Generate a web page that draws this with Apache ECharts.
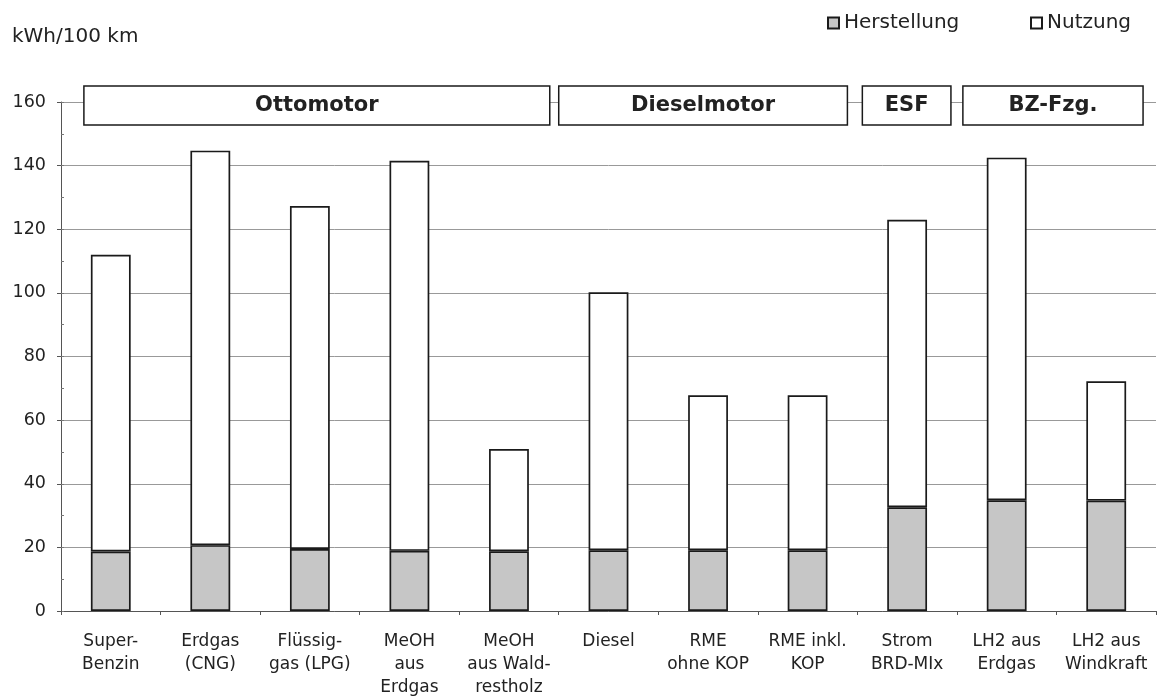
<!DOCTYPE html>
<html><head><meta charset="utf-8">
<script src="https://cdn.jsdelivr.net/npm/echarts@6/dist/echarts.min.js"></script>
<style>html,body{margin:0;padding:0;background:#fff}#c{width:1160px;height:699px}</style>
</head><body><div id="c"></div>
<script>
const categories = ['Super-\nBenzin','Erdgas\n(CNG)','Flüssig-\ngas (LPG)','MeOH\naus\nErdgas','MeOH\naus Wald-\nrestholz','Diesel','RME\nohne KOP','RME inkl.\nKOP','Strom\nBRD-MIx','LH2 aus\nErdgas','LH2 aus\nWindkraft'];
const herstellung = [18.7, 20.7, 19.5, 18.9, 18.8, 19.1, 19.1, 19.1, 32.6, 34.8, 34.7];
const nutzung = [93.3, 124.0, 107.8, 122.6, 32.1, 81.1, 48.7, 48.7, 90.4, 107.7, 37.5];
const yTicks = [0, 20, 40, 60, 80, 100, 120, 140, 160];
const groupLabels = ['Ottomotor', 'Dieselmotor', 'ESF', 'BZ-Fzg.'];
const groupFrom = [-0.27, 4.50, 7.55, 8.56];   // in category units
const groupTo = [4.41, 7.40, 8.44, 10.37];
const groupLevel = [160, 160, 160, 160];

const FONT = 'DejaVu Sans';
const chart = echarts.init(document.getElementById('c'), null, {renderer: 'canvas'});

function catX(api, c) {
  const i = Math.floor(c);
  const band = api.size([1, 0])[0];
  return api.coord([i, 0])[0] + (c - i) * band;
}

chart.setOption({
  animation: false,
  backgroundColor: '#fff',
  textStyle: {fontFamily: FONT, color: '#222'},
  title: {
    text: 'kWh/100 km', left: 7, top: 22,
    textStyle: {fontFamily: FONT, fontSize: 20, fontWeight: 'normal', color: '#222'}
  },
  legend: [
    {data: ['Herstellung'], left: 822, top: 8, itemWidth: 11, itemHeight: 11, itemGap: 2, icon: 'rect',
     textStyle: {fontFamily: FONT, fontSize: 20, color: '#222'}},
    {data: ['Nutzung'], left: 1025, top: 8, itemWidth: 11, itemHeight: 11, itemGap: 2, icon: 'rect',
     textStyle: {fontFamily: FONT, fontSize: 20, color: '#222'}}
  ],
  grid: {left: 61, right: 4, top: 102, bottom: 87, containLabel: false},
  xAxis: {
    type: 'category', data: categories,
    axisLine: {show: true, lineStyle: {color: '#555', width: 1}},
    axisTick: {show: true, length: 4, lineStyle: {color: '#555'}},
    axisLabel: {fontFamily: FONT, fontSize: 17, color: '#222', lineHeight: 23, margin: 19, interval: 0}
  },
  yAxis: [{
    type: 'value', min: yTicks[0], max: yTicks[yTicks.length - 1], interval: yTicks[1] - yTicks[0],
    axisLine: {show: true, lineStyle: {color: '#555', width: 1}},
    axisTick: {show: true, length: 4, lineStyle: {color: '#555'}},
    axisLabel: {fontFamily: FONT, fontSize: 17.5, color: '#222', margin: 15},
    splitLine: {show: true, lineStyle: {color: '#999', width: 1}}
  }, {
    type: 'value', min: yTicks[0], max: yTicks[yTicks.length - 1], interval: (yTicks[1] - yTicks[0]) / 2,
    position: 'left', offset: 0,
    axisLine: {show: false},
    axisTick: {show: true, inside: true, length: 3, lineStyle: {color: '#777'}},
    axisLabel: {show: false},
    splitLine: {show: false}
  }],
  series: [
    {
      name: 'Herstellung', type: 'bar', stack: 'a', barWidth: '40%', data: herstellung,
      itemStyle: {color: '#c6c6c6', borderColor: '#1a1a1a', borderWidth: 1.7}
    },
    {
      name: 'Nutzung', type: 'bar', stack: 'a', barWidth: '40%', data: nutzung,
      itemStyle: {color: '#ffffff', borderColor: '#1a1a1a', borderWidth: 1.7}
    },
    {
      type: 'custom', silent: true, clip: false, z: 10,
      data: groupLabels.map((l, i) => [groupFrom[i], groupTo[i], groupLevel[i]]),
      renderItem: function (params, api) {
        const i = params.dataIndex;
        const x0 = catX(api, api.value(0));
        const x1 = catX(api, api.value(1));
        const yc = api.coord([0, api.value(2)])[1];
        const top = yc - 16, h = 39;
        return {
          type: 'group',
          children: [
            {type: 'rect', shape: {x: x0, y: top, width: x1 - x0, height: h},
             style: {fill: '#fff', stroke: '#1a1a1a', lineWidth: 1.5}},
            {type: 'text', style: {text: groupLabels[i], x: (x0 + x1) / 2, y: top + h / 2,
             align: 'center', verticalAlign: 'middle', fontFamily: FONT, fontSize: 21,
             fontWeight: 'bold', fill: '#222'}}
          ]
        };
      }
    }
  ]
});
</script></body></html>
